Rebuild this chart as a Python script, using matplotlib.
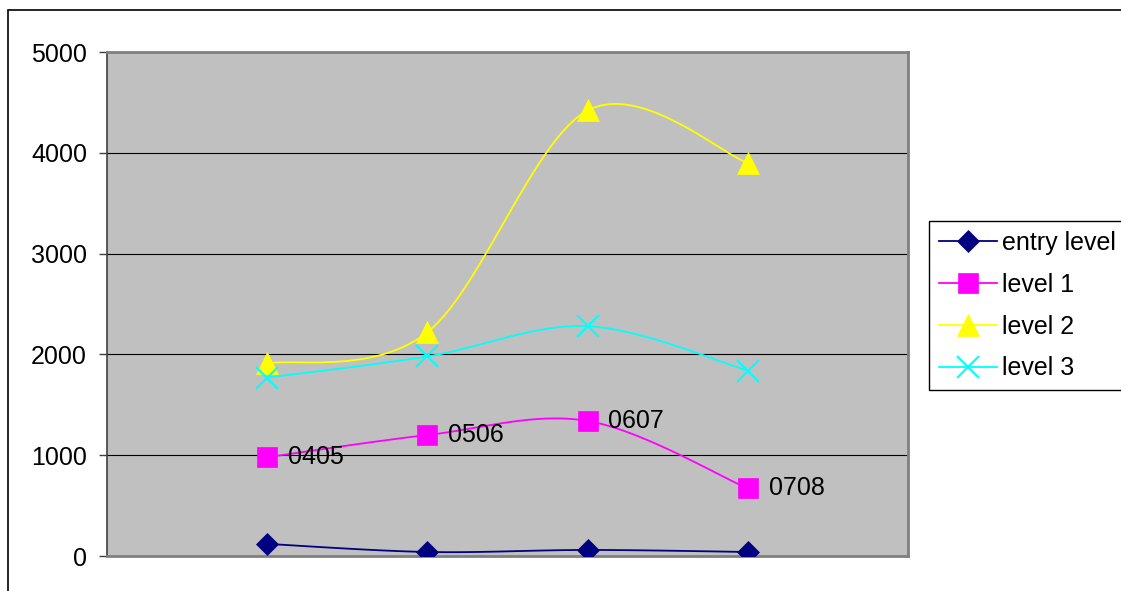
import numpy as np
import matplotlib
matplotlib.use("Agg")
import matplotlib.pyplot as plt
from matplotlib.patches import Rectangle

plt.rcParams['font.family'] = ['Liberation Sans', 'DejaVu Sans']

# ---- data ----
positions = [1, 2, 3, 4]
period_labels = ["0405", "0506", "0607", "0708"]
entry_level = [120, 40, 60, 40]
level_1 = [980, 1200, 1340, 670]
level_2 = [1910, 2220, 4420, 3900]
level_3 = [1770, 1980, 2280, 1840]
y_ticks = [0, 1000, 2000, 3000, 4000, 5000]

series = [
    ("entry level", entry_level, "#000080", "D", 11.0),
    ("level 1", level_1, "#FF00FF", "s", 14.0),
    ("level 2", level_2, "#FFFF00", "^", 16.0),
    ("level 3", level_3, "#00FFFF", "x", 15.5),
]


def smooth(xs, ys, n=40):
    """Cubic Bezier smoothing through every point (Catmull-Rom style)."""
    p = np.column_stack([xs, ys]).astype(float)
    p = np.vstack([p[0], p, p[-1]])
    out = []
    for i in range(1, len(p) - 2):
        p0, p1, p2, p3 = p[i - 1], p[i], p[i + 1], p[i + 2]
        c1 = p1 + (p2 - p0) / 6.0
        c2 = p2 - (p3 - p1) / 6.0
        t = np.linspace(0, 1, n)[:, None]
        seg = ((1 - t) ** 3) * p1 + 3 * ((1 - t) ** 2) * t * c1 \
            + 3 * (1 - t) * t ** 2 * c2 + t ** 3 * p2
        out.append(seg if i == 1 else seg[1:])
    pts = np.vstack(out)
    return pts[:, 0], pts[:, 1]


W, H = 1121, 591
fig = plt.figure(figsize=(W / 100, H / 100), dpi=100)
fig.patch.set_facecolor("white")

ax = fig.add_axes([107 / W, 1 - 556 / H, (908 - 107) / W, (556 - 52) / H])
ax.set_facecolor("#C0C0C0")
ax.set_xlim(0, 5)
ax.set_ylim(0, 5000)
ax.set_yticks(y_ticks)
ax.set_xticks([])
ax.tick_params(axis="y", length=5.8, width=1, color="#404040", pad=8.6, labelsize=18)
ax.yaxis.grid(True, color="black", linewidth=0.8)
ax.set_axisbelow(True)
for side in ("top", "right", "bottom"):
    ax.spines[side].set_color("#808080")
    ax.spines[side].set_linewidth(2)
ax.spines["left"].set_color("#404040")
ax.spines["left"].set_linewidth(1.2)

handles = []
for name, vals, color, marker, ms in series:
    sx, sy = smooth(positions, vals)
    ax.plot(sx, sy, color=color, linewidth=1.3, zorder=3)
    mew = 1.5 if marker == "x" else 0.5
    ax.plot(positions, vals, linestyle="none", marker=marker, markersize=ms,
            color=color, markeredgecolor=color, markeredgewidth=mew, zorder=4)
    h, = ax.plot([], [], color=color, linewidth=1.3, marker=marker, markersize=ms,
                 markeredgecolor=color, markeredgewidth=mew, label=name)
    handles.append(h)

for x, v, lab in zip(positions, level_1, period_labels):
    ax.annotate(lab, (x, v), xytext=(15, 0), textcoords="offset points",
                ha="left", va="center", fontsize=18, color="black", zorder=5)

leg = fig.legend(handles=handles, loc="upper left",
                 bbox_to_anchor=(929 / W, 1 - 221 / H), bbox_transform=fig.transFigure,
                 fontsize=18, frameon=True, fancybox=False, edgecolor="black",
                 framealpha=1, borderpad=0.4, borderaxespad=0, handlelength=2.3,
                 handletextpad=0.2, labelspacing=0.71)
leg.get_frame().set_linewidth(1)

# outer chart frame
fig.patches.append(Rectangle((8 / W, -0.1), 1.5, 1 - 10 / H + 0.1,
                             transform=fig.transFigure, fill=False,
                             edgecolor="black", linewidth=1.2))

fig.savefig("out.png", dpi=100)
